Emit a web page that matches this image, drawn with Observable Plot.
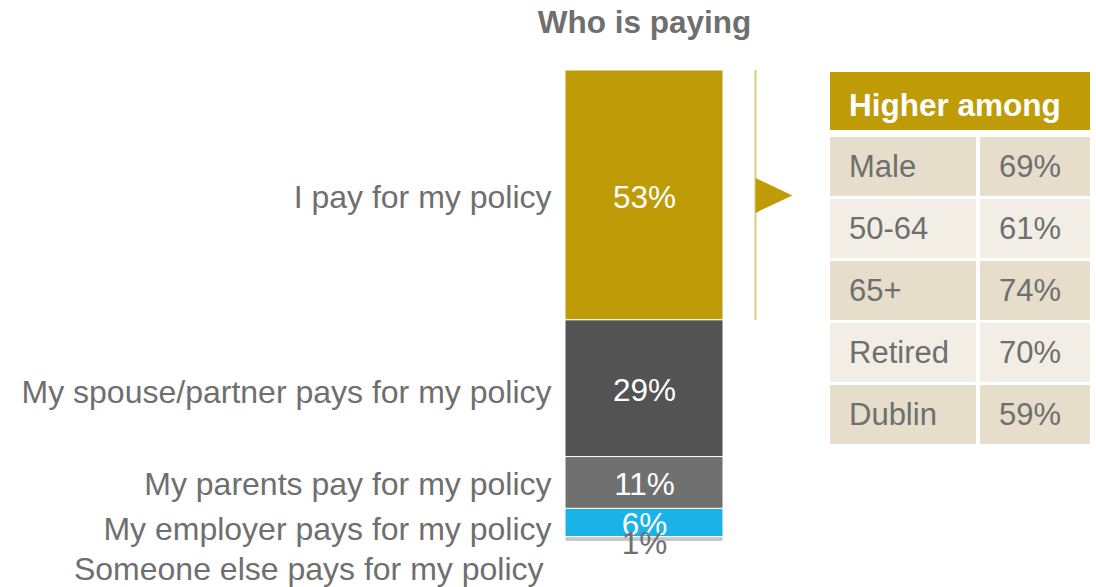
<!DOCTYPE html>
<html>
<head>
<meta charset="utf-8">
<script src="https://cdn.jsdelivr.net/npm/d3@7"></script>
<script src="https://cdn.jsdelivr.net/npm/@observablehq/plot@0.6"></script>
<style>
  html, body { margin: 0; padding: 0; background: #fff; }
  #wrap { position: relative; width: 1096px; height: 587px; font-family: "Liberation Sans", Arial, sans-serif; }
  #table {
    position: absolute; left: 830px; top: 72px;
    display: grid; grid-template-columns: 146px 110px; column-gap: 4px; row-gap: 3px;
    grid-template-rows: 62px repeat(5, 59px);
  }
  #table .hdr {
    grid-column: 1 / span 2; height: 58px; align-self: start; box-sizing: border-box;
    background: #BF9B07; color: #fff; font-weight: bold; font-size: 31.5px;
    display: flex; align-items: center; padding-left: 19px; padding-top: 8px;
  }
  #table .cell {
    display: flex; align-items: center; font-size: 31px; color: #6f6f6f; padding-left: 19px;
  }
</style>
</head>
<body>
<div id="wrap"><div id="chart"></div><div id="table"></div></div>
<script>
// ---- data ----
const title = "Who is paying";
const categories = [
  "I pay for my policy",
  "My spouse/partner pays for my policy",
  "My parents pay for my policy",
  "My employer pays for my policy",
  "Someone else pays for my policy"
];
const shares = [53, 29, 11, 6, 1];
const tableHeader = "Higher among";
const groups = ["Male", "50-64", "65+", "Retired", "Dublin"];
const groupShares = [69, 61, 74, 70, 59];

// ---- styling (not data) ----
const segmentColors = ["#BF9B07", "#535353", "#707070", "#1BB2E8", "#C6C6C6"];
const gold = "#BF9B07";
const textGray = "#6f6f6f";
const labelNudge = [2, 4, 2, 7, 30];
const labelShift = [0, 0, 0, 0, -8];
const rowFills = ["#E6DDCA", "#F2EEE6"];

let acc = 0;
const rows = categories.map((c, i) => {
  const y1 = acc; acc += shares[i];
  return { category: c, value: shares[i], y1, y2: acc, mid: (y1 + acc) / 2, i };
});

const triangle = {
  draw(ctx, size) {
    const r = Math.sqrt(size / Math.PI);
    ctx.moveTo(0, -r);
    ctx.lineTo(2.1 * r, 0);
    ctx.lineTo(0, r);
    ctx.closePath();
  }
};

const fontFamily = "'Liberation Sans', Arial, sans-serif";

const plot = Plot.plot({
  width: 1096,
  height: 587,
  margin: 0,
  x: { domain: [0, 1], range: [565, 723], axis: null },
  y: { domain: [0, 100], range: [70, 541.4], axis: null },
  color: { domain: categories, range: segmentColors },
  style: { fontFamily, background: "white" },
  marks: [
    Plot.rect(rows, { x1: 0, x2: 1, y1: "y1", y2: "y2", fill: "category", stroke: "white", strokeWidth: 1 }),
    Plot.text(rows.filter(d => d.i < 4), { x: 0.5, y: "mid", text: d => d.value + "%", fill: "white", fontSize: 31.5, dy: 2 }),
    Plot.text(rows.filter(d => d.i === 4), { x: 0.5, y: "mid", text: d => d.value + "%", fill: textGray, fontSize: 31.5, dy: 4 }),
    ...rows.map(d => Plot.text([d], {
      x: 0, y: "mid", text: "category", textAnchor: "end",
      dx: -14 + labelShift[d.i], dy: labelNudge[d.i], fill: textGray, fontSize: 32
    })),
    Plot.ruleX([1], { y1: rows[0].y1, y2: rows[0].y2, dx: 32, stroke: "#DCC87A", strokeWidth: 2 }),
    Plot.dot([rows[0]], { x: 1, y: "mid", dx: 32, symbol: triangle, r: 17.5, fill: gold, stroke: "none" }),
    Plot.text([title], { x: 0.5, frameAnchor: "top", lineAnchor: "middle", dy: 22, text: d => d, fontSize: 31.5, fontWeight: "bold", fill: textGray })
  ]
});
document.getElementById("chart").appendChild(plot);

// ---- table ----
const table = d3.select("#table");
table.append("div").attr("class", "hdr").text(tableHeader);
groups.forEach((g, i) => {
  const bg = rowFills[i % 2];
  table.append("div").attr("class", "cell").style("background", bg).text(g);
  table.append("div").attr("class", "cell").style("background", bg).text(groupShares[i] + "%");
});
</script>
</body>
</html>
